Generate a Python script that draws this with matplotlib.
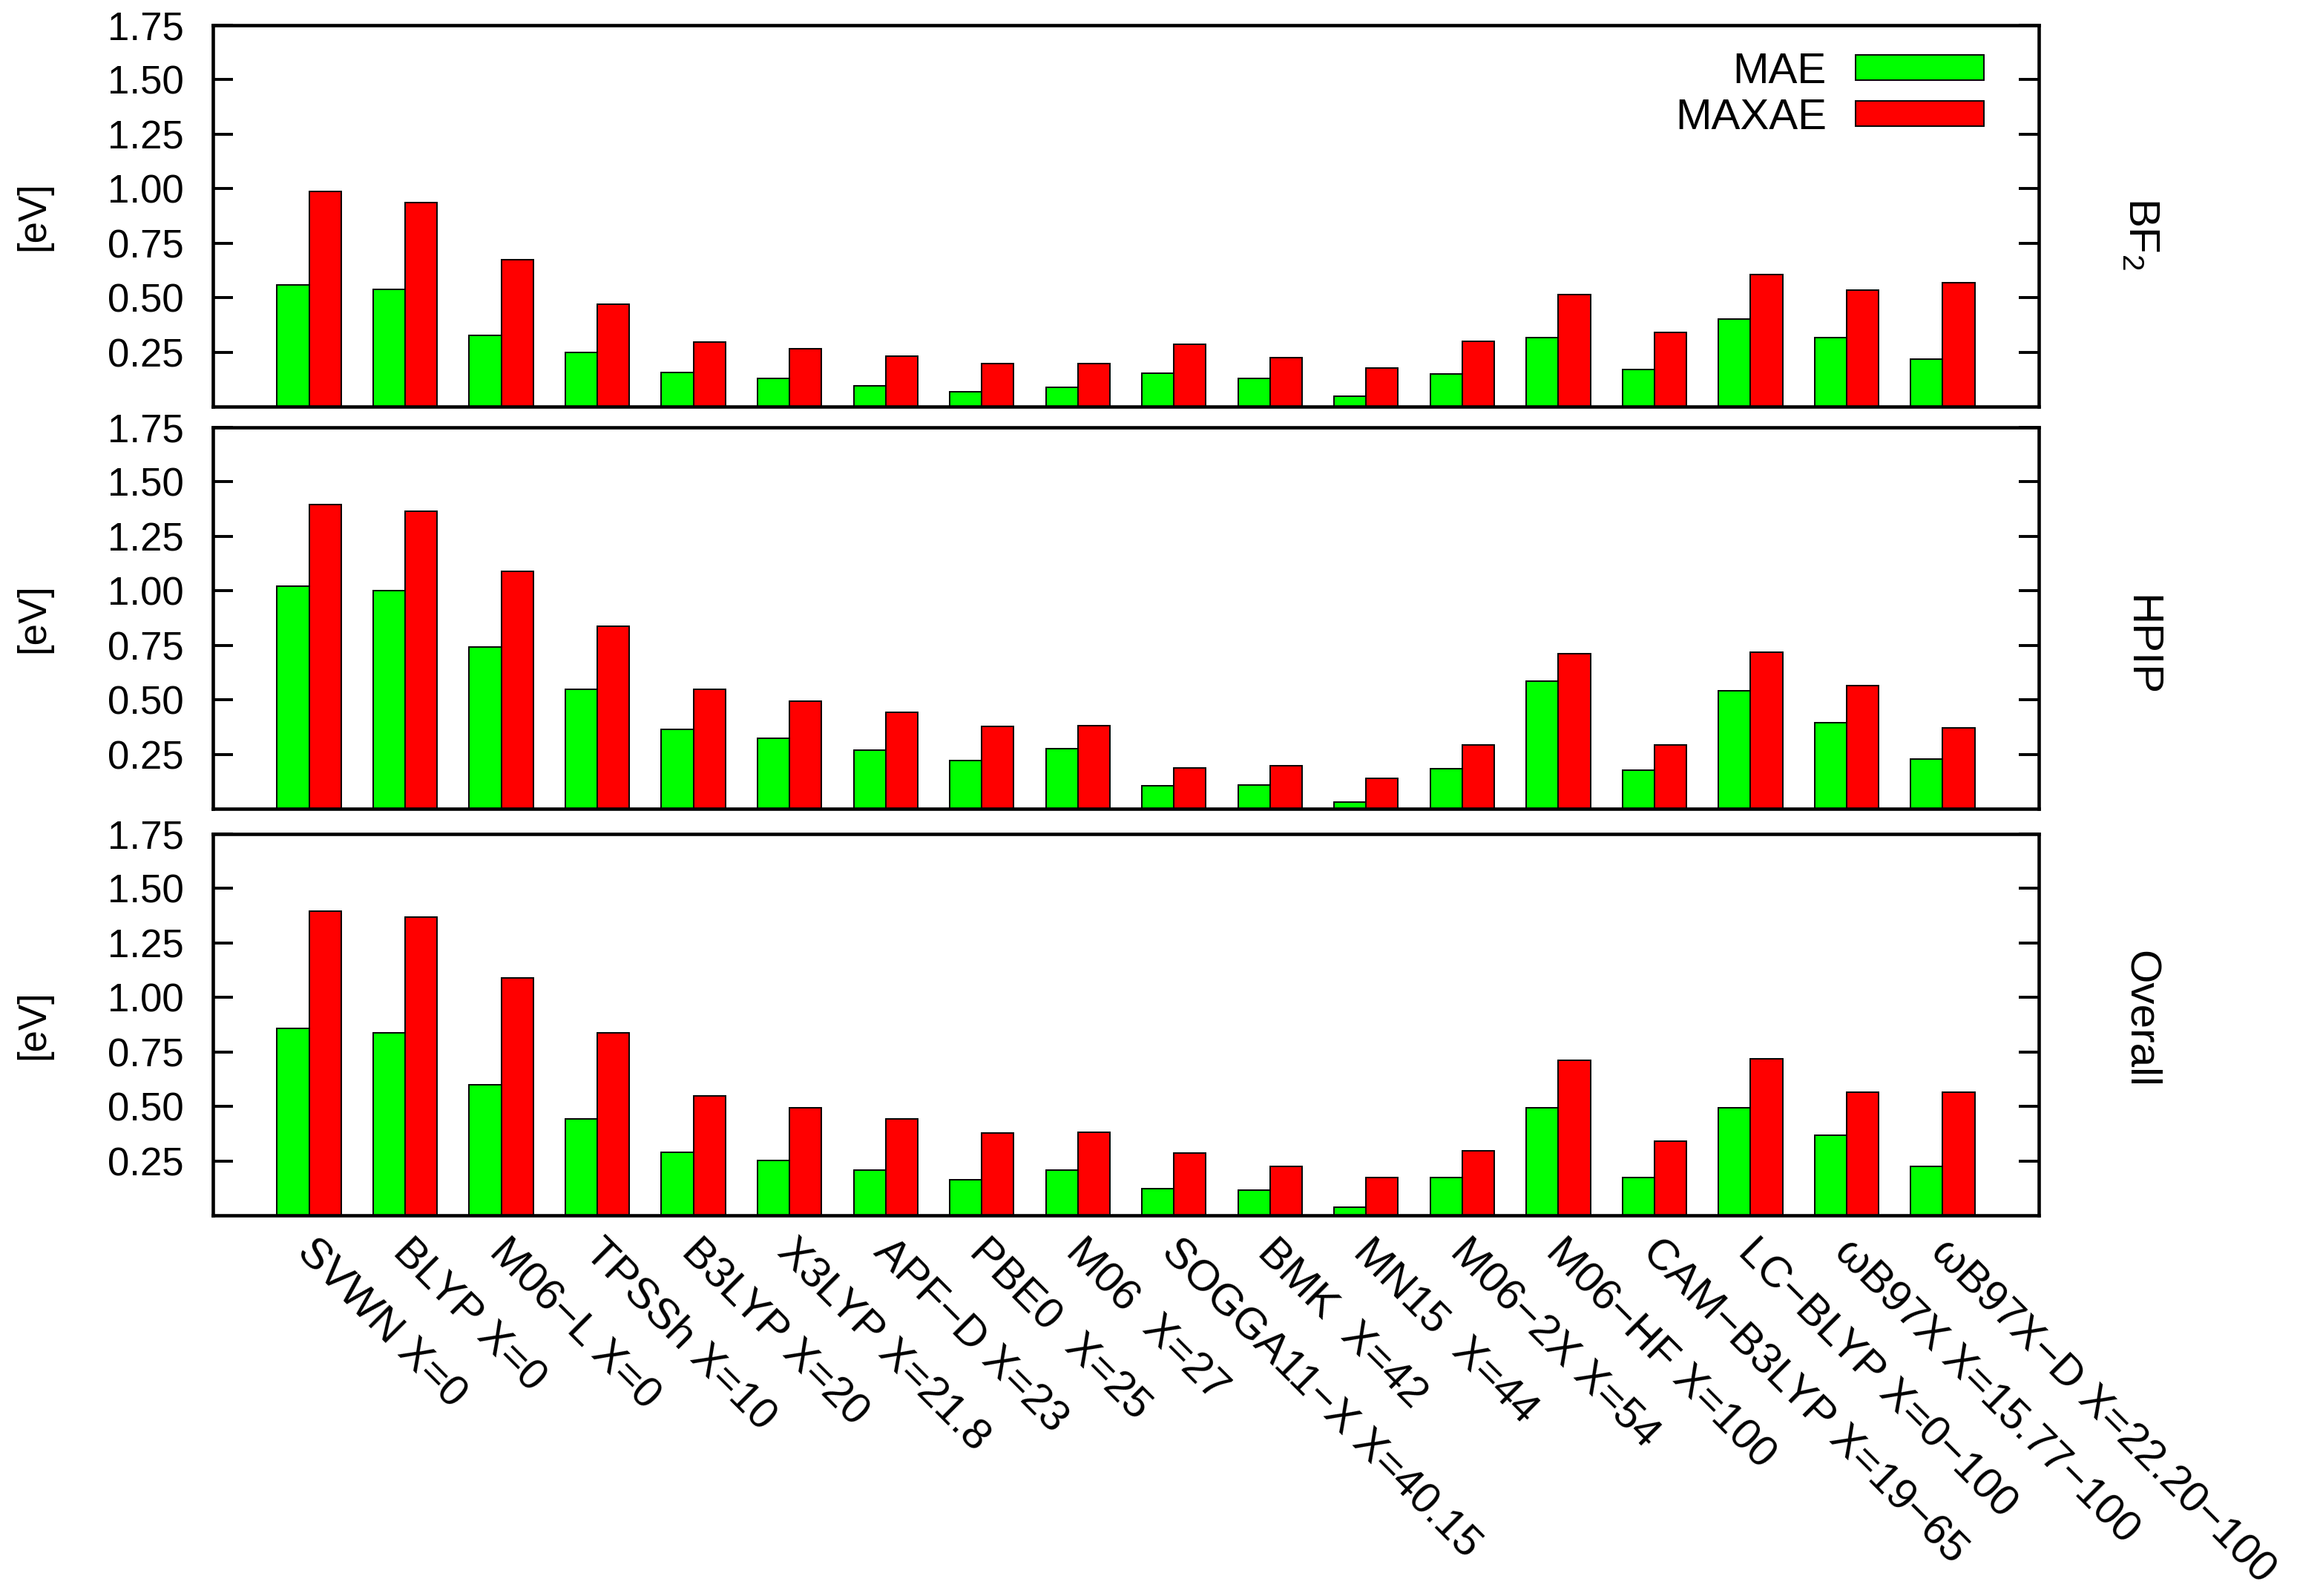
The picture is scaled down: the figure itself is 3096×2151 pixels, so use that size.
import matplotlib
matplotlib.use('Agg')
import matplotlib.pyplot as plt
import matplotlib.transforms as mtransforms
from matplotlib.patches import Patch
import numpy as np

plt.rcParams['font.family'] = ['Liberation Sans', 'DejaVu Sans']
plt.rcParams['mathtext.fontset'] = 'custom'
plt.rcParams['mathtext.rm'] = 'Liberation Sans'
plt.rcParams['mathtext.default'] = 'regular'

labels = ['SVWN X=0', 'BLYP X=0', 'M06\u2212L X=0', 'TPSSh X=10', 'B3LYP X=20',
          'X3LYP X=21.8', 'APF\u2212D X=23', 'PBE0  X=25', 'M06  X=27',
          'SOGGA11\u2212X X=40.15', 'BMK  X=42', 'MN15  X=44', 'M06\u22122X X=54',
          'M06\u2212HF X=100', 'CAM\u2212B3LYP X=19\u221265', 'LC\u2212BLYP X=0\u2212100',
          '\u03c9B97X X=15.77\u2212100', '\u03c9B97X\u2212D X=22.20\u2212100']

panel_names = ['BF$_2$', 'HPIP', 'Overall']

mae_bf2 = [0.557, 0.539, 0.326, 0.250, 0.156, 0.128, 0.095, 0.067, 0.087,
           0.154, 0.130, 0.048, 0.151, 0.318, 0.170, 0.402, 0.318, 0.219]
maxae_bf2 = [0.986, 0.937, 0.674, 0.469, 0.297, 0.266, 0.233, 0.198, 0.196,
             0.285, 0.226, 0.176, 0.299, 0.513, 0.341, 0.607, 0.533, 0.569]

mae_hpip = [1.020, 1.001, 0.743, 0.549, 0.365, 0.324, 0.270, 0.220, 0.276,
            0.107, 0.110, 0.030, 0.185, 0.586, 0.177, 0.542, 0.394, 0.227]
maxae_hpip = [1.397, 1.366, 1.090, 0.836, 0.549, 0.494, 0.442, 0.377, 0.383,
              0.188, 0.196, 0.140, 0.294, 0.710, 0.293, 0.717, 0.564, 0.372]

mae_all = [0.857, 0.838, 0.598, 0.442, 0.290, 0.253, 0.209, 0.165, 0.209,
           0.123, 0.117, 0.038, 0.174, 0.494, 0.174, 0.494, 0.368, 0.225]
maxae_all = [1.397, 1.367, 1.090, 0.836, 0.549, 0.494, 0.442, 0.377, 0.383,
             0.285, 0.224, 0.175, 0.297, 0.713, 0.339, 0.719, 0.566, 0.566]

yticks = [0.25, 0.50, 0.75, 1.00, 1.25, 1.50, 1.75]

W, H = 3096, 2151
fig = plt.figure(figsize=(W / 200, H / 200), dpi=200)

left = 287 / W
width = (2748 - 287) / W
tops = [34, 576, 1124]
ph = 514
name_y = [315, 870, 1373]  # where gnuplot put the right-hand labels
bw = 1 / 3
x = np.arange(len(labels))
fs = 19
fs_big = 21

data = [(mae_bf2, maxae_bf2), (mae_hpip, maxae_hpip), (mae_all, maxae_all)]
axes = []
for i, (mae, maxae) in enumerate(data):
    ax = fig.add_axes([left, 1 - (tops[i] + ph) / H, width, ph / H])
    ax.bar(x - bw / 2, mae, bw, color='#00ff00', edgecolor='black', linewidth=0.7, label='MAE')
    ax.bar(x + bw / 2, maxae, bw, color='#ff0000', edgecolor='black', linewidth=0.7, label='MAXAE')
    ax.set_xlim(-1, len(labels))
    ax.set_ylim(0, 1.75)
    ax.set_yticks(yticks)
    ax.set_yticklabels(['%.2f' % v for v in yticks])
    ax.tick_params(axis='y', direction='in', length=9.7, width=1.4,
                   left=True, right=True, labelsize=fs, pad=14)
    ax.tick_params(axis='x', length=0)
    for s in ax.spines.values():
        s.set_linewidth(1.65)
    cy = 1 - (tops[i] + ph / 2) / H
    fig.text(45 / W, cy, '[eV]', rotation=90, ha='center', va='center', fontsize=fs)
    fig.text(2885 / W, 1 - name_y[i] / H, panel_names[i], rotation=-90,
             ha='center', va='center', fontsize=fs_big)
    axes.append(ax)

for ax in axes[:-1]:
    ax.set_xticks(x)
    ax.set_xticklabels([])

ax = axes[-1]
ax.set_xticks(x)
ax.set_xticklabels(labels, rotation=-45, ha='left', va='top', rotation_mode='anchor', fontsize=fs_big)
ax.tick_params(axis='x', pad=8)
off = mtransforms.ScaledTranslation(4 / 72, 0, fig.dpi_scale_trans)
for t in ax.get_xticklabels():
    t.set_transform(t.get_transform() + off)

handles = [Patch(facecolor='#00ff00', edgecolor='black', linewidth=0.7),
           Patch(facecolor='#ff0000', edgecolor='black', linewidth=0.7)]
axes[0].legend(handles, ['MAE', 'MAXAE'], loc='upper right', bbox_to_anchor=(0.970, 0.93),
               frameon=False, markerfirst=False, fontsize=fs_big, handlelength=2.97,
               handleheight=0.52, handletextpad=0.67, borderpad=0, borderaxespad=0,
               labelspacing=0.14)

fig.savefig('out.png', dpi=200)
